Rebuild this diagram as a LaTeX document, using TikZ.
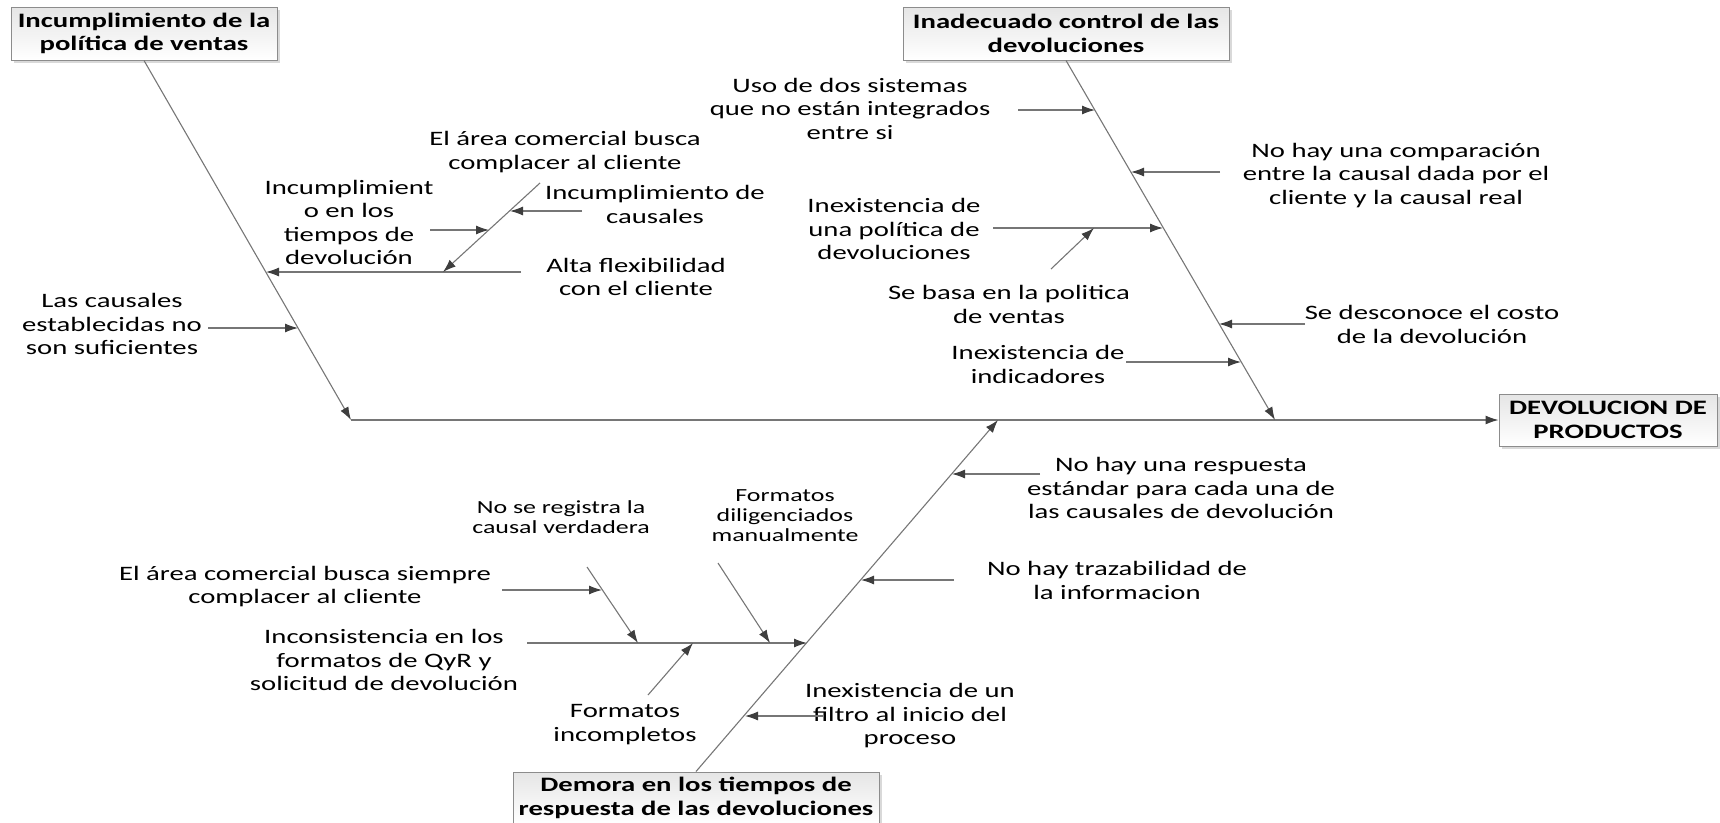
\documentclass[tikz,border=0pt]{standalone}
\usepackage{fontspec}
\setmainfont{Carlito}[FakeStretch=1.4]
\usetikzlibrary{arrows.meta,shadows}

\definecolor{boneline}{RGB}{118,118,118}
\definecolor{tipcol}{RGB}{62,62,62}
\definecolor{boxedge}{RGB}{140,140,140}

\tikzset{
  bone/.style={draw=boneline, line width=1.1pt,
    -{Latex[length=13pt,width=9pt,color=tipcol]}},
  causebox/.style={draw=boxedge, line width=1pt, rectangle,
    top color=gray!20, bottom color=white,
    drop shadow={shadow xshift=3pt, shadow yshift=-3pt, opacity=.3, fill=gray},
    font=\bfseries\fontsize{20.5}{23.5}\selectfont, align=center, inner sep=0pt},
  lbl/.style={align=center, inner sep=0pt, font=\fontsize{20.5}{23.5}\selectfont},
  lblsmall/.style={align=center, inner sep=0pt, font=\fontsize{18.5}{20}\selectfont},
}

\begin{document}
\begin{tikzpicture}[x=1pt, y=-1pt]
\useasboundingbox (0,0) rectangle (1720,822);

% category boxes and effect
\node[causebox, minimum width=266pt, minimum height=53pt] (box1) at (144,33.5)
  {Incumplimiento de la\\política de ventas};
\node[causebox, minimum width=326pt, minimum height=53pt] (box2) at (1066,33.5)
  {Inadecuado control de las\\devoluciones};
\node[causebox, minimum width=218pt, minimum height=52pt] (box3) at (1608,420)
  {DEVOLUCION DE\\PRODUCTOS};
\node[causebox, minimum width=366pt, minimum height=52pt] (box4) at (696,798)
  {Demora en los tiempos de\\respuesta de las devoluciones};

% spine and main bones
\coordinate (spineL) at (351,420);
\coordinate (b2end) at (1275,420);
\coordinate (b3end) at (998,420);
\draw[bone] (spineL) -- (box3.west);
\draw[bone] (box1.south) -- (spineL);
\draw[bone] (box2.south) -- (b2end);
\draw[bone] (box4.north) -- (b3end);

% ---- bone 1 causes
\node[lbl] (tA1) at (112,324) {Las causales\\establecidas no\\son suficientes};
\node[lbl] (tA2) at (636,277) {Alta flexibilidad\\con el cliente};
\node[lbl] (tSB) at (565,152) {El área comercial busca\\complacer al cliente};
\node[lbl] (tA3) at (349,222.5) {Incumplimient\\o en los\\tiempos de\\devolución};
\node[lbl] (tA4) at (655,204.5) {Incumplimiento de\\causales};

\coordinate (a1s) at (208,328); \coordinate (a1e) at (298,328);
\coordinate (a2s) at (521,272); \coordinate (a2e) at (266,272);
\coordinate (sbs) at (540,183); \coordinate (sbe) at (443,272);
\coordinate (a3s) at (430,230); \coordinate (a3e) at (489,230);
\coordinate (a4s) at (582,211); \coordinate (a4e) at (510,211);
\draw[bone] (a1s) -- (a1e);
\draw[bone] (a2s) -- (a2e);
\draw[bone] (sbs) -- (sbe);
\draw[bone] (a3s) -- (a3e);
\draw[bone] (a4s) -- (a4e);

% ---- bone 2 causes
\node[lbl] (tB1) at (850,108.6) {Uso de dos sistemas\\que no están integrados\\entre si};
\node[lbl] (tB2) at (1396,175.5) {No hay una comparación\\entre la causal dada por el\\cliente y la causal real};
\node[lbl] (tB3) at (894,229) {Inexistencia de\\una política de\\devoluciones};
\node[lbl] (tB4) at (1009,304.5) {Se basa en la politica\\de ventas};
\node[lbl] (tB5) at (1432,324.5) {Se desconoce el costo\\de la devolución};
\node[lbl] (tB6) at (1038,364.5) {Inexistencia de\\indicadores};

\coordinate (b1s) at (1018,110); \coordinate (b1e) at (1095,110);
\coordinate (b2s) at (1220,172); \coordinate (b2e) at (1131,172);
\coordinate (b3s) at (993,228);  \coordinate (b3e) at (1163,228);
\coordinate (b4s) at (1051,269); \coordinate (b4e) at (1094,228);
\coordinate (b5s) at (1305,324); \coordinate (b5e) at (1219,324);
\coordinate (b6s) at (1126,362); \coordinate (b6e) at (1241,362);
\draw[bone] (b1s) -- (b1e);
\draw[bone] (b2s) -- (b2e);
\draw[bone] (b3s) -- (b3e);
\draw[bone] (b4s) -- (b4e);
\draw[bone] (b5s) -- (b5e);
\draw[bone] (b6s) -- (b6e);

% ---- bone 3 causes
\node[lbl] (tC1) at (1181,488) {No hay una respuesta\\estándar para cada una de\\las causales de devolución};
\node[lbl] (tC2) at (1117,580.5) {No hay trazabilidad de\\la informacion};
\node[lbl] (tC3) at (910,716) {Inexistencia de un\\filtro al inicio del\\proceso};
\node[lbl] (tC4) at (384,660) {Inconsistencia en los\\formatos de QyR y\\solicitud de devolución};
\node[lbl] (tC5) at (305,586.5) {El área comercial busca siempre\\complacer al cliente};
\node[lblsmall] (tC6) at (561,517) {No se registra la\\causal verdadera};
\node[lblsmall] (tC7) at (785,516) {Formatos\\diligenciados\\manualmente};
\node[lbl] (tC8) at (625,724.5) {Formatos\\incompletos};

\coordinate (c1s) at (1040,474); \coordinate (c1e) at (952,474);
\coordinate (c2s) at (954,580);  \coordinate (c2e) at (861,580);
\coordinate (c3s) at (823,716);  \coordinate (c3e) at (745,716);
\coordinate (c4s) at (527,643);  \coordinate (c4e) at (807,643);
\coordinate (c5s) at (502,590);  \coordinate (c5e) at (602,590);
\coordinate (c6s) at (587,567);  \coordinate (c6e) at (638,643);
\coordinate (c7s) at (718,563);  \coordinate (c7e) at (770,643);
\coordinate (c8s) at (648,695);  \coordinate (c8e) at (693,643);
\draw[bone] (c1s) -- (c1e);
\draw[bone] (c2s) -- (c2e);
\draw[bone] (c3s) -- (c3e);
\draw[bone] (c4s) -- (c4e);
\draw[bone] (c5s) -- (c5e);
\draw[bone] (c6s) -- (c6e);
\draw[bone] (c7s) -- (c7e);
\draw[bone] (c8s) -- (c8e);
\end{tikzpicture}
\end{document}
